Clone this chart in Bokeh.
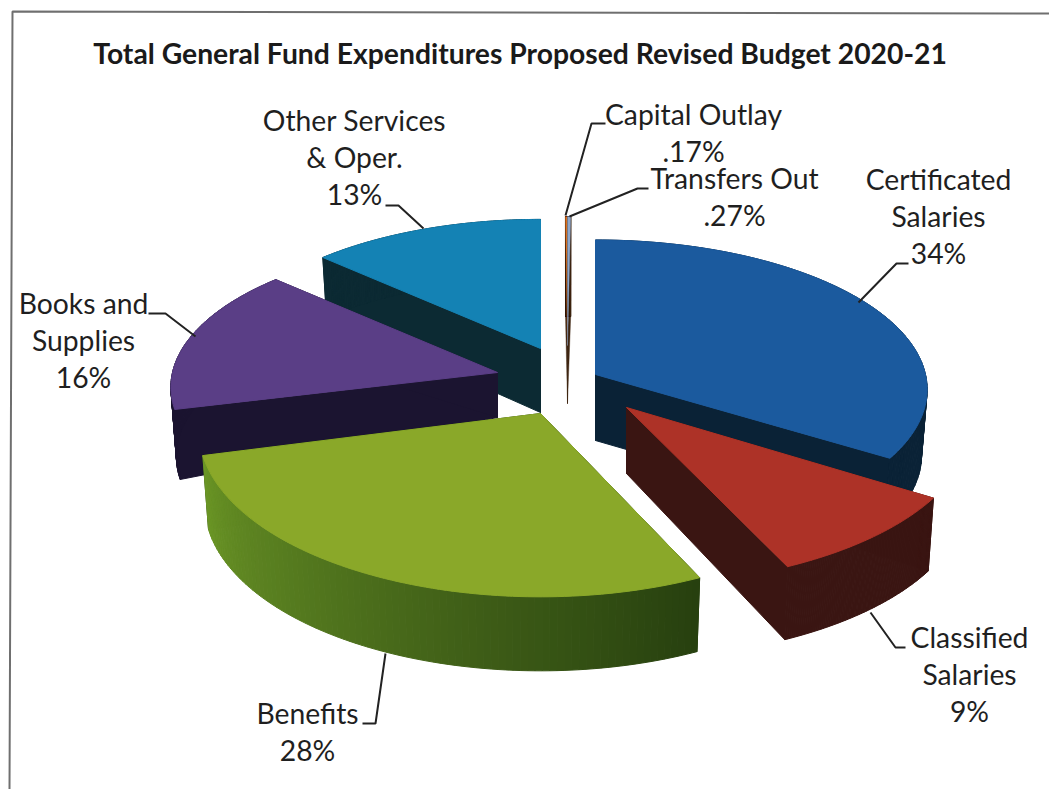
import numpy as np
from bokeh.plotting import figure
from bokeh.models import Range1d
from bokeh.core.properties import value
from bokeh.embed import file_html
from bokeh.resources import INLINE

# ---- data ----
title = "Total General Fund  Expenditures Proposed Revised Budget 2020-21"
categories = ["Certificated Salaries", "Classified Salaries", "Benefits",
              "Books and Supplies", "Other Services & Oper."]
shares = [34, 9, 28, 16, 13]
small_categories = ["Capital Outlay", "Transfers Out"]
small_shares = [0.17, 0.27]

# ---- layout: one exploded disc piece per slice (pixels of the page picture) ----
W, H = 1049, 789
ORIGIN = 0
apex = {"Certificated Salaries": (595, 374), "Classified Salaries": (626, 407), "Benefits": (540, 413),
        "Books and Supplies": (497, 372), "Other Services & Oper.": (540, 348),
        "Capital Outlay": (567, 345), "Transfers Out": (567, 345)}
radii = {"Certificated Salaries": (330, 148), "Classified Salaries": (344, 160), "Benefits": (340, 165),
         "Books and Supplies": (325, 145), "Other Services & Oper.": (319, 142),
         "Capital Outlay": (210, 142), "Transfers Out": (210, 142)}
depth = {"Certificated Salaries": (66, 66), "Classified Salaries": (66, 73), "Benefits": (66, 74),
         "Books and Supplies": (45, 70), "Other Services & Oper.": (64, 60),
         "Capital Outlay": (58, 100), "Transfers Out": (58, 100)}
top_col = {"Certificated Salaries": "#1b5a9e", "Classified Salaries": "#ad3227", "Benefits": "#8aa829",
           "Books and Supplies": "#5a3e86", "Other Services & Oper.": "#1482b4",
           "Capital Outlay": "#d9701f", "Transfers Out": "#8ea6c9"}
cut_col = {"Certificated Salaries": "#0a2236", "Classified Salaries": "#3a1512", "Benefits": "#27400f",
           "Books and Supplies": "#1b1430", "Other Services & Oper.": "#0c2a33",
           "Capital Outlay": "#3d2410", "Transfers Out": "#3d2410"}
rim_cols = {"Certificated Salaries": ("#0a2236", "#0a2236"), "Classified Salaries": ("#3a1512", "#3a1512"),
            "Benefits": ("#27400f", "#6b9626"), "Books and Supplies": ("#1b1430", "#1b1430"),
            "Other Services & Oper.": ("#0c2a33", "#0c2a33"),
            "Capital Outlay": ("#3d2410", "#3d2410"), "Transfers Out": ("#3d2410", "#3d2410")}
PERSP = 0.10
BOTTOM_SHRINK = 0.983

labels = [("Other Services", 354, 119), ("& Oper.", 354, 156), ("13%", 354, 193),
          ("Capital Outlay", 693, 113), (".17%", 693, 150),
          ("Transfers Out", 734, 177), (".27%", 734, 214),
          ("Certificated", 938, 178), ("Salaries", 938, 215), ("34%", 938, 252),
          ("Classified", 969, 636), ("Salaries", 969, 673), ("9%", 969, 710),
          ("Benefits", 307, 712), ("28%", 307, 749),
          ("Books and", 83, 302), ("Supplies", 83, 339), ("16%", 83, 376)]
leaders = [([605, 591, 565], [123, 123, 215]),
           ([648, 637, 569], [188, 188, 216]),
           ([908, 896, 858], [263, 263, 302]),
           ([905, 895, 870], [647, 647, 612]),
           ([362, 375, 385], [723, 723, 653]),
           ([148, 165, 195], [313, 313, 336]),
           ([385, 398, 423], [205, 205, 228])]
frame = ([9, 12, 1049], [789, 11, 13])

p = figure(width=W, height=H, x_range=Range1d(ORIGIN, ORIGIN + W), y_range=Range1d(ORIGIN + H, ORIGIN),
           toolbar_location=None, output_backend="svg", min_border=0, outline_line_color=None,
           background_fill_color="white", border_fill_color="white")
p.xaxis.visible = False
p.yaxis.visible = False
p.grid.visible = False


def rim(name, theta):
    cx, cy = apex[name]
    a, b = radii[name]
    w = 1 + PERSP * np.cos(theta)
    return cx + a * np.sin(theta) / w, cy - b * np.cos(theta) / w


def mix(c1, c2, t):
    x = [int(c1[i:i + 2], 16) for i in (1, 3, 5)]
    y = [int(c2[i:i + 2], 16) for i in (1, 3, 5)]
    return "#%02x%02x%02x" % tuple(int(round(u + (v - u) * t)) for u, v in zip(x, y))


def piece(name, start, end, edge=1.0):
    th = np.linspace(start, end, 90)
    rx, ry = rim(name, th)
    cx, cy = apex[name]
    t0, t1 = depth[name]
    bx = cx + (rx - cx) * BOTTOM_SHRINK
    by = ry + t1
    for i in (0, -1):
        xs = [cx, rx[i], bx[i], cx]
        ys = [cy, ry[i], by[i], cy + t0]
        p.patch(xs, ys, fill_color=cut_col[name], line_color=cut_col[name], line_width=edge)
    c1, c2 = rim_cols[name]
    sx, sy, cols = [], [], []
    for i in range(len(th) - 1):
        sx.append([rx[i], rx[i + 1], bx[i + 1], bx[i]])
        sy.append([ry[i], ry[i + 1], by[i + 1], by[i]])
        cols.append(mix(c1, c2, i / (len(th) - 2)))
    p.patches(sx, sy, fill_color=cols, line_color=cols, line_width=edge)
    p.patch([cx, *rx], [cy, *ry], fill_color=top_col[name], line_color=top_col[name], line_width=edge)


scale = 2 * np.pi / sum(shares)
edges = np.concatenate([[0], np.cumsum(shares)]) * scale
span = dict(zip(categories, zip(edges[:-1], edges[1:])))
small_scale = [s * scale for s in small_shares]
span[small_categories[0]] = (-small_scale[0], 0.0)
span[small_categories[1]] = (0.0, small_scale[1])

for name in ["Other Services & Oper.", "Capital Outlay", "Transfers Out", "Books and Supplies",
             "Certificated Salaries", "Classified Salaries", "Benefits"]:
    piece(name, *span[name], edge=0.4 if name in small_categories else 1.0)

p.line(frame[0], frame[1], line_color="#6f6f6f", line_width=2)
for xs, ys in leaders:
    p.line(xs, ys, line_color="#222222", line_width=2)

FONT = value("Lato")
p.text([523], [52], text=[title], text_font=FONT, text_font_size="28.3px", text_font_style="bold",
       text_color="#1a1a1a", text_align="center", text_baseline="middle")
p.text([l[1] for l in labels], [l[2] for l in labels], text=[l[0] for l in labels], text_font=FONT,
       text_font_size="28.3px", text_color="#1f1f1f", text_align="center", text_baseline="middle")

open("out.html", "w").write(file_html(p, INLINE))
